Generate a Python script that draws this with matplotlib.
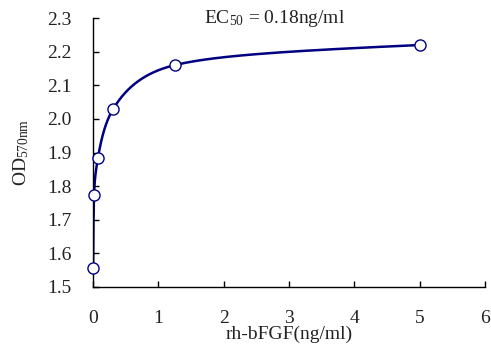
import numpy as np
import matplotlib
matplotlib.use('Agg')
import matplotlib.pyplot as plt

# rh-bFGF dose (ng/ml), 1:4 serial dilution, and measured OD570nm
conc = [0.0049, 0.0195, 0.078, 0.3125, 1.25, 5.0]
od = [1.555, 1.775, 1.883, 2.030, 2.160, 2.220]
x_ticks = [0, 1, 2, 3, 4, 5, 6]
y_ticks = [1.5, 1.6, 1.7, 1.8, 1.9, 2.0, 2.1, 2.2, 2.3]


def pchip(x, y, xn):
    # monotone cubic hermite (Fritsch-Carlson)
    x, y = np.asarray(x, float), np.asarray(y, float)
    h = np.diff(x)
    d = np.diff(y) / h
    m = np.zeros_like(y)
    m[0], m[-1] = d[0], d[-1]
    for i in range(1, len(x) - 1):
        if d[i - 1] * d[i] > 0:
            w1 = 2 * h[i] + h[i - 1]
            w2 = h[i] + 2 * h[i - 1]
            m[i] = (w1 + w2) / (w1 / d[i - 1] + w2 / d[i])
    idx = np.clip(np.searchsorted(x, xn) - 1, 0, len(x) - 2)
    t = (xn - x[idx]) / h[idx]
    h00 = 2 * t**3 - 3 * t**2 + 1
    h10 = t**3 - 2 * t**2 + t
    h01 = -2 * t**3 + 3 * t**2
    h11 = t**3 - t**2
    return (h00 * y[idx] + h10 * h[idx] * m[idx]
            + h01 * y[idx + 1] + h11 * h[idx] * m[idx + 1])


lx = np.log(conc)
xs = np.linspace(lx[0], lx[-1], 400)
ys = pchip(lx, od, xs)

plt.rcParams['font.family'] = ['Liberation Serif', 'DejaVu Serif']
plt.rcParams['mathtext.fontset'] = 'custom'
plt.rcParams['mathtext.rm'] = 'Liberation Serif'
plt.rcParams['mathtext.it'] = 'Liberation Serif:italic'

fig = plt.figure(figsize=(4.91, 3.49), dpi=100)
ax = fig.add_axes([0.189, 0.178, 0.799, 0.770])

ax.plot(np.exp(xs), ys, color='#000080', lw=1.8, zorder=2)
ax.plot(conc, od, 'o', ms=8, mfc='white', mec='#000080', mew=1.0,
        zorder=3, clip_on=False)

ax.set_xlim(0, 6)
ax.set_ylim(1.5, 2.3)
ax.set_xticks(x_ticks)
ax.set_yticks(y_ticks)
ax.set_yticklabels(['%.1f' % v for v in y_ticks])
ax.tick_params(direction='in', length=4, width=1, labelsize=14,
               labelcolor='#222222')
ax.tick_params(axis='y', pad=15)
ax.tick_params(axis='x', pad=17)
for s in ['top', 'right']:
    ax.spines[s].set_visible(False)
for s in ['left', 'bottom']:
    ax.spines[s].set_linewidth(1)

ax.set_xlabel('rh-bFGF(ng/ml)', fontsize=14, labelpad=-1, color='#222222')
ax.set_ylabel(r'OD$_{\mathrm{570nm}}$', fontsize=14, labelpad=12,
              color='#222222')
ax.text(3.86, 2.3, r'EC$_{50}$ = 0.18ng/ml', ha='right', va='center',
        fontsize=14, color='#222222')

fig.savefig('out.png', dpi=100)
